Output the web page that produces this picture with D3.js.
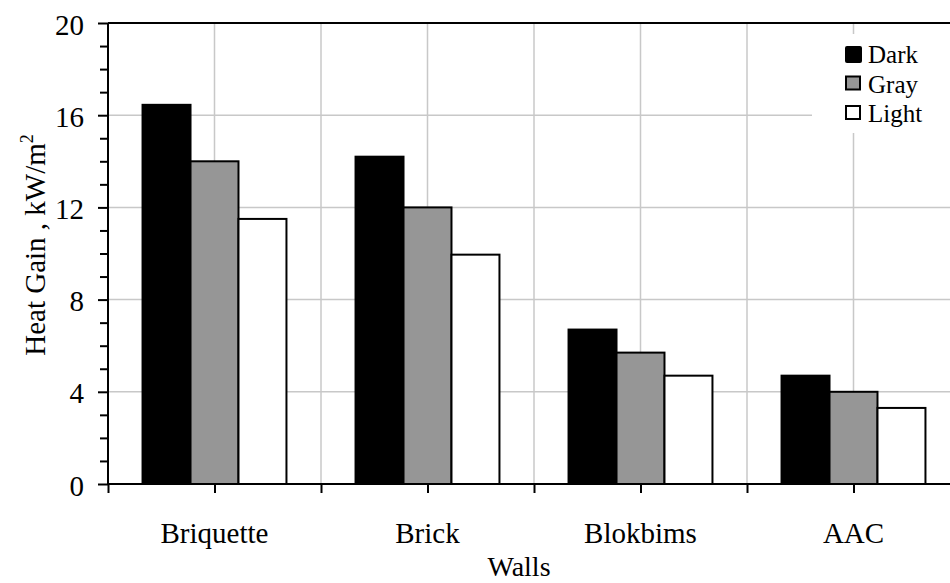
<!DOCTYPE html>
<html>
<head>
<meta charset="utf-8">
<script src="https://cdn.jsdelivr.net/npm/d3@7"></script>
<style>
  body { margin: 0; background: #fff; }
  text { font-family: "Liberation Serif", "Times New Roman", serif; fill: #000; }
</style>
</head>
<body>
<div id="chart"></div>
<script>
// data
var walls = ["Briquette", "Brick", "Blokbims", "AAC"];
var series = ["Dark", "Gray", "Light"];
var dark = [16.45, 14.2, 6.7, 4.7];
var gray = [14.0, 12.0, 5.7, 4.0];
var light = [11.5, 9.95, 4.7, 3.3];
var yTicks = [0, 4, 8, 12, 16, 20];

var colors = {Dark: "#000000", Gray: "#969696", Light: "#ffffff"};
var values = {Dark: dark, Gray: gray, Light: light};

var width = 950, height = 583;
var margin = {left: 108, top: 23, right: -10, bottom: 99};

var svg = d3.select("#chart").append("svg")
    .attr("width", width)
    .attr("height", height);

var x0 = d3.scaleBand()
    .domain(walls)
    .range([margin.left, width - margin.right])
    .paddingInner(0)
    .paddingOuter(0);

var x1 = d3.scaleBand()
    .domain(series)
    .range([0, x0.bandwidth()])
    .paddingInner(0)
    .paddingOuter(0.72);

var y = d3.scaleLinear()
    .domain([0, 20])
    .range([height - margin.bottom, margin.top]);

// vertical gridlines: group centers and group borders
var gridX = [];
walls.forEach(function(w) {
    gridX.push(x0(w) + x0.bandwidth() / 2);
    gridX.push(x0(w) + x0.bandwidth());
});

svg.append("g").selectAll("line.gx")
    .data(gridX)
    .enter().append("line")
    .attr("x1", function(d) { return d; })
    .attr("x2", function(d) { return d; })
    .attr("y1", y(0))
    .attr("y2", y(20))
    .attr("stroke", "#c8c8c8")
    .attr("stroke-width", 1.5);

svg.append("g").selectAll("line.gy")
    .data(yTicks.slice(1, -1))
    .enter().append("line")
    .attr("x1", margin.left)
    .attr("x2", width)
    .attr("y1", function(d) { return y(d); })
    .attr("y2", function(d) { return y(d); })
    .attr("stroke", "#c8c8c8")
    .attr("stroke-width", 1.5);

// bars
var groups = svg.append("g").selectAll("g")
    .data(walls)
    .enter().append("g")
    .attr("transform", function(d) { return "translate(" + x0(d) + ",0)"; });

groups.selectAll("rect")
    .data(function(d, i) {
        return series.map(function(s) { return {s: s, v: values[s][i]}; });
    })
    .enter().append("rect")
    .attr("x", function(d) { return x1(d.s); })
    .attr("width", x1.bandwidth())
    .attr("y", function(d) { return y(d.v); })
    .attr("height", function(d) { return y(0) - y(d.v); })
    .attr("fill", function(d) { return colors[d.s]; })
    .attr("stroke", "#000")
    .attr("stroke-width", 2);

// y axis with minor ticks
var yAxis = d3.axisLeft(y)
    .tickValues(d3.range(0, 21, 1))
    .tickSize(9)
    .tickPadding(16)
    .tickFormat(function(d) { return d % 4 === 0 ? d : ""; });

var gy = svg.append("g")
    .attr("transform", "translate(" + margin.left + ",0)")
    .call(yAxis);
gy.select(".domain").attr("stroke-width", 2).attr("d", "M0," + y(20) + "V" + y(0));
gy.selectAll(".tick line")
    .attr("stroke-width", 2)
    .attr("x2", function(d) { return d % 4 === 0 ? -10 : -8; });
gy.selectAll(".tick text")
    .attr("x", -24)
    .attr("dy", "0.38em")
    .style("font-size", "29px")
    .style("font-family", "Liberation Serif");

// x axis: ticks at centers and borders
var xLin = d3.scaleLinear().domain([0, 8]).range(x0.range());
var gx = svg.append("g")
    .attr("transform", "translate(0," + y(0) + ")")
    .call(d3.axisBottom(xLin).tickValues(d3.range(0, 9)).tickSize(9).tickFormat(""));
gx.select(".domain").attr("stroke-width", 2).attr("d", "M" + margin.left + ",0H" + width);
gx.selectAll(".tick line").attr("stroke-width", 2);

svg.append("g").selectAll("text")
    .data(walls)
    .enter().append("text")
    .attr("x", function(d) { return x0(d) + x0.bandwidth() / 2; })
    .attr("y", 543)
    .attr("text-anchor", "middle")
    .style("font-size", "29px")
    .text(function(d) { return d; });

// top frame
svg.append("line")
    .attr("x1", margin.left).attr("x2", width)
    .attr("y1", y(20)).attr("y2", y(20))
    .attr("stroke", "#000").attr("stroke-width", 2);

// axis titles
svg.append("text")
    .attr("x", 519)
    .attr("y", 576)
    .attr("text-anchor", "middle")
    .style("font-size", "28px")
    .text("Walls");

var yt = svg.append("text")
    .attr("transform", "translate(45,245) rotate(-90)")
    .attr("text-anchor", "middle")
    .style("font-size", "29px");
yt.append("tspan").text("Heat Gain , kW/m");
yt.append("tspan").attr("dy", -12).style("font-size", "18px").text("2");

// legend
var legend = svg.append("g");
legend.append("rect")
    .attr("x", 812).attr("y", 34)
    .attr("width", 138).attr("height", 99)
    .attr("fill", "#fff");

var li = legend.selectAll("g.item")
    .data(series)
    .enter().append("g")
    .attr("transform", function(d, i) { return "translate(0," + (i * 29.5) + ")"; });

li.append("rect")
    .attr("x", function(d, i) { return i === 0 ? 845 : 846; })
    .attr("y", function(d, i) { return i === 0 ? 46 : 47; })
    .attr("width", function(d, i) { return i === 0 ? 17 : 14; })
    .attr("height", function(d, i) { return i === 0 ? 17 : 13; })
    .attr("rx", function(d, i) { return i === 0 ? 2 : 0; })
    .attr("fill", function(d) { return colors[d]; })
    .attr("stroke", "#000")
    .attr("stroke-width", function(d, i) { return i === 0 ? 0 : 2; });

li.append("text")
    .attr("x", 868)
    .attr("y", 63)
    .style("font-size", "25px")
    .text(function(d) { return d; });
</script>
</body>
</html>
